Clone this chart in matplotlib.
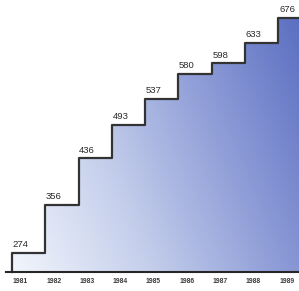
import numpy as np
import matplotlib
matplotlib.use("Agg")
import matplotlib.pyplot as plt
from matplotlib.colors import LinearSegmentedColormap

# data
years = ["1981", "1982", "1983", "1984", "1985", "1986", "1987", "1988", "1989"]
values = [274, 356, 436, 493, 537, 580, 598, 633, 676]
base = 241

fig = plt.figure(figsize=(2.99, 2.91), dpi=100)
ax = fig.add_axes([0, 0, 1, 1])
ax.set_xlim(-0.36, 8.62)
ax.set_ylim(209, 706)
ax.axis("off")

# step outline (post style), extended past the right edge
xs = np.arange(len(values) + 1)
ys = values + [values[-1]]

# gradient fill under the steps
cmap = LinearSegmentedColormap.from_list(
    "bl", ["#f2f5fc", "#c6d0ec", "#8e9cd7", "#586cc0"])
gx, gy = np.meshgrid(np.linspace(0, 1, 200), np.linspace(0, 1, 200))
grad = 0.78 * gx + 0.3 * gy
img = ax.imshow(grad, cmap=cmap, extent=[0, 9, base, 706], origin="lower",
                aspect="auto", vmin=0, vmax=1.05, zorder=1)
poly = ax.fill_between(xs, base, ys, step="post", color="none", zorder=1)
img.set_clip_path(poly.get_paths()[0], transform=ax.transData)

ax.step(np.r_[0, xs], np.r_[base, ys], where="post", color="#333333",
        lw=1.6, zorder=3)
ax.axhline(base, xmin=0.02, color="#262626", lw=1.5, zorder=3)

# value labels sitting on each step
for i, v in enumerate(values):
    ax.text(i + 0.02, v + 6, str(v), fontsize=6.8, color="#2a2a2a",
            family="Liberation Sans", ha="left", va="bottom")

# year labels under the baseline
for i, y in enumerate(years):
    ax.text(i + 0.25, base - 10, y, fontsize=4.9, color="#3a3a3a",
            family="Liberation Sans", fontweight="bold", ha="center", va="top")

fig.savefig("out.png", dpi=100)
